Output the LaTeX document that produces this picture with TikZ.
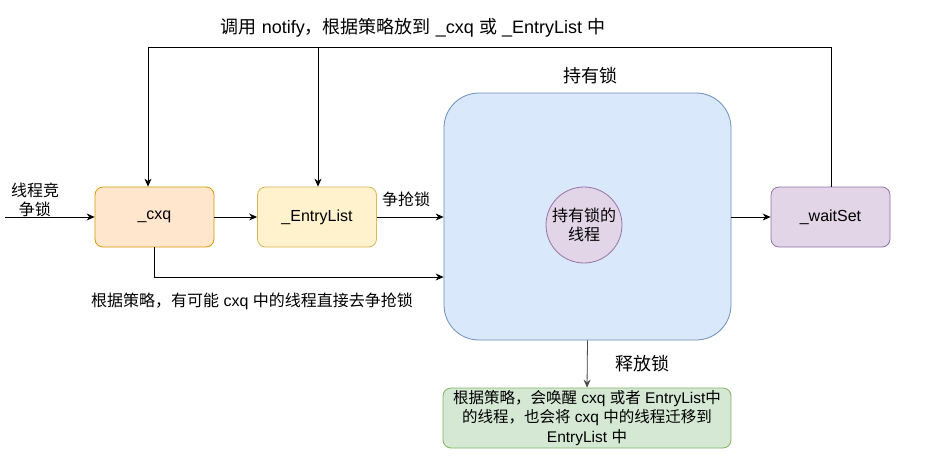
\documentclass[tikz,border=0pt]{standalone}
\usepackage{fontspec}
\setmainfont{Liberation Sans}
\newfontfamily\cjk{Noto Sans CJK SC}
\newcommand{\C}[1]{{\cjk #1}}
\usetikzlibrary{arrows.meta}
\definecolor{cxqfill}{HTML}{FFE6CC}\definecolor{cxqline}{HTML}{D79B00}
\definecolor{elfill}{HTML}{FFF2CC}\definecolor{elline}{HTML}{D6B656}
\definecolor{bigfill}{HTML}{DAE8FC}\definecolor{bigline}{HTML}{6C8EBF}
\definecolor{pfill}{HTML}{E1D5E7}\definecolor{pline}{HTML}{9673A6}
\definecolor{gfill}{HTML}{D5E8D4}\definecolor{gline}{HTML}{82B366}
\begin{document}
\begin{tikzpicture}[x=1pt,y=-1pt,
  box/.style={draw,rounded corners=8pt,minimum width=119pt,minimum height=60pt,inner sep=0pt,line width=0.8pt,font=\fontsize{16}{19}\selectfont},
  lbl/.style={font=\fontsize{16}{19}\selectfont,inner sep=0pt,align=center},
  big lbl/.style={lbl,font=\fontsize{18}{21}\selectfont},
  arr/.style={-{Stealth[length=8pt,width=7pt]},line width=0.8pt}]
\useasboundingbox[fill=white] (0,0) rectangle (929,466);
\node[box,fill=cxqfill,draw=cxqline] (cxq) at (154.5,217) {\_cxq};
\node[box,fill=elfill,draw=elline] (el) at (317,217) {\_EntryList};
\node[draw=bigline,fill=bigfill,rounded corners=35pt,minimum width=287pt,minimum height=247pt,line width=0.8pt] (big) at (587.5,216.5) {};
\node[circle,draw=pline,fill=pfill,minimum size=76pt,inner sep=0pt,line width=0.8pt,lbl] (hold) at (584,225) {\C{持有锁的}\\\C{线程}};
\node[box,fill=pfill,draw=pline] (ws) at (830.5,217) {\_waitSet};
\node[box,fill=gfill,draw=gline,minimum width=288pt,align=center,font=\fontsize{15.5}{19.5}\selectfont] (rel) at (587,418) {\C{根据策略，会唤醒} cxq \C{或者} EntryList\C{中}\\\C{的线程，也会将} cxq \C{中的线程迁移到}\\EntryList \C{中}};
\coordinate (in) at (5,217);
\coordinate (tl) at (148,47);
\coordinate (tm) at (318,47);
\coordinate (tr) at (831,47);
\coordinate (bend) at (154.5,277);
\node[big lbl] (ttop) at (413,28) {\C{调用} notify\C{，根据策略放到} \_cxq \C{或} \_EntryList \C{中}};
\node[big lbl] (thold) at (590,76) {\C{持有锁}};
\node[lbl] (tin) at (35,200) {\C{线程竞}\\\C{争锁}};
\node[lbl] (tgrab) at (406,199) {\C{争抢锁}};
\node[lbl] (tdirect) at (252,301) {\C{根据策略，有可能} cxq \C{中的线程直接去争抢锁}};
\node[big lbl] (trel) at (642,364) {\C{释放锁}};
\draw[arr] (in) -- (cxq.west);
\draw[arr] (cxq) -- (el);
\draw[arr] (el.east) -- (el.east -| big.west);
\draw[arr] (cxq.south) -- (bend) -- (bend -| big.west);
\draw[arr] (big.east |- ws.west) -- (ws.west);
\draw[arr,draw=black!70,fill=black!70] (big.south) -- (rel.north);
\draw[line width=0.8pt] (ws.north -| tr) -- (tr) -- (tl);
\draw[arr] (tl) -- (tl |- cxq.north);
\draw[arr] (tm) -- (tm |- el.north);
\end{tikzpicture}
\end{document}
